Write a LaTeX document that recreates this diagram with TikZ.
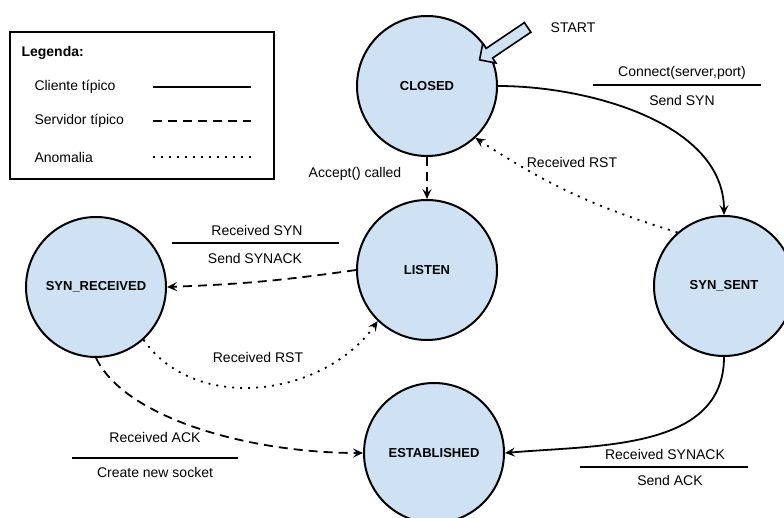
\documentclass[tikz,border=0pt]{standalone}
\usepackage{fontspec}
\setmainfont{Liberation Sans}
\usetikzlibrary{arrows.meta,shapes.arrows}
\definecolor{stateblue}{RGB}{207,226,243}

\begin{document}
\begin{tikzpicture}[x=1pt,y=1pt,
    state/.style={circle,draw,line width=2pt,fill=stateblue,minimum size=140pt,
      inner sep=0pt,font=\fontsize{13}{15}\selectfont\bfseries},
    lbl/.style={font=\fontsize{14}{16}\selectfont},
    trans/.style={line width=1.8pt,-{Stealth[length=10pt,width=9pt,inset=4pt]}},
    server/.style={dash pattern=on 9pt off 6pt},
    anomaly/.style={dash pattern=on 2pt off 6pt},
    bar/.style={line width=2pt}]
  \useasboundingbox (0,0) rectangle (784,517);
  \clip (0,0) rectangle (784,517);

  % states
  \node[state] (closed) at (427,431) {CLOSED};
  \node[state] (listen) at (427,247) {LISTEN};
  \node[state] (synrcvd) at (96,230) {SYN\_RECEIVED};
  \node[state] (synsent) at (724,231) {SYN\_SENT};
  \node[state] (estab) at (434,64) {ESTABLISHED};

  % start
  \node[single arrow,draw,line width=1.6pt,fill=stateblue,minimum height=58pt,
    inner sep=5pt,single arrow head extend=6pt,rotate=214] (start) at (506,475) {};
  \node[lbl] (starttxt) at (573,489) {START};

  % transitions
  \draw[trans] (closed.east) to[out=0,in=90,looseness=0.9] (synsent.north);
  \draw[trans,anomaly] (synsent.131) to[bend left=8] (closed.-47);
  \draw[trans,server] (closed.south) -- (listen.north);
  \draw[trans,server] (listen.west) to[bend left=3] (synrcvd.east);
  \draw[trans,anomaly] (synrcvd.-48) to[out=-55,in=-125] (listen.-134);
  \draw[trans,server] (synrcvd.south) .. controls +(29,-60) and +(-114,0) .. (estab.west);
  \draw[trans] (synsent.south) to[out=-90,in=5] (estab.east);

  % labels
  \node[lbl] (accept) at (355,343) {Accept() called};
  \node[lbl] (rst1) at (572,355) {Received RST};
  \node[lbl] (rst2) at (258,160) {Received RST};
  \node[lbl] (conn) at (682,444) {Connect(server,port)};
  \node[lbl] (sendsyn) at (682,417) {Send SYN};
  \draw[bar] (593,432) -- (761,432);
  \node[lbl] (rcvsyn) at (257,287) {Received SYN};
  \node[lbl] (sendsynack) at (255,259) {Send SYNACK};
  \draw[bar] (172,274) -- (339,274);
  \node[lbl] (rcvack) at (155,80) {Received ACK};
  \node[lbl] (newsock) at (155,45) {Create new socket};
  \draw[bar] (72,59) -- (238,59);
  \node[lbl] (rcvsynack) at (665,63) {Received SYNACK};
  \node[lbl] (sendack) at (670,37) {Send ACK};
  \draw[bar] (580,50) -- (748,50);

  % legend
  \draw[line width=2pt] (10,338) rectangle (274,485);
  \node[lbl,font=\fontsize{14}{16}\selectfont\bfseries,anchor=west] (leg) at (18,464) {Legenda:};
  \foreach \y/\txt/\sty in {430/Cliente típico/solid,396/Servidor típico/server,360/Anomalia/anomaly}{
    \node[lbl,anchor=west] at (31,\y) {\txt};
    \draw[line width=2pt,\sty] (153,\y) -- (251,\y);
  }
\end{tikzpicture}
\end{document}
